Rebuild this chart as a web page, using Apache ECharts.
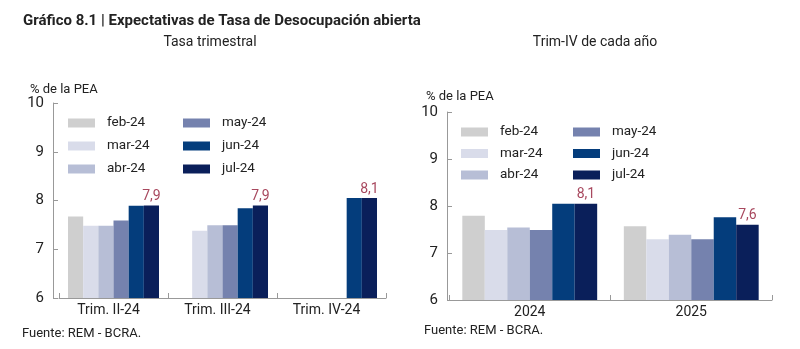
<!DOCTYPE html>
<html><head><meta charset="utf-8">
<script src="https://cdn.jsdelivr.net/npm/echarts@6/dist/echarts.min.js"></script>
<style>html,body{margin:0;padding:0;background:#fff}#c{width:800px;height:349px}</style>
</head><body><div id="c"></div>
<script>
// ---- data ----
const seriesNames = ['feb-24','mar-24','abr-24','may-24','jun-24','jul-24'];
const leftCategories = ['Trim. II-24','Trim. III-24','Trim. IV-24'];
const rightCategories = ['2024','2025'];
const leftFeb = [7.67, null, null];
const leftMar = [7.48, 7.38, null];
const leftAbr = [7.48, 7.49, null];
const leftMay = [7.59, 7.49, null];
const leftJun = [7.89, 7.84, 8.05];
const leftJul = [7.9, 7.9, 8.05];
const rightFeb = [7.79, 7.57];
const rightMar = [7.49, 7.29];
const rightAbr = [7.54, 7.39];
const rightMay = [7.49, 7.29];
const rightJun = [8.05, 7.76];
const rightJul = [8.05, 7.6];
const yTicks = [6, 7, 8, 9, 10];

const colors = ['#cfcfcf','#d9dcea','#b7bed6','#7582ae','#043d7c','#0a1f5a'];
const leftData = [leftFeb,leftMar,leftAbr,leftMay,leftJun,leftJul];
const rightData = [rightFeb,rightMar,rightAbr,rightMay,rightJun,rightJul];
const FONT = 'Roboto';
const txt = '#222';

function mkSeries(dataArr, idx) {
  return dataArr.map((d, i) => ({
    name: seriesNames[i], type: 'bar', xAxisIndex: idx, yAxisIndex: idx,
    data: d, barGap: '0%', barCategoryGap: '16.5%',
    itemStyle: { color: colors[i] },
    label: i === 5 ? {
      show: true, position: 'top', distance: 2, color: '#a8485e',
      fontFamily: FONT, fontSize: 14,
      formatter: p => (Math.round(p.value * 10) / 10).toFixed(1).replace('.', ',')
    } : { show: false },
    emphasis: { disabled: true }, animation: false
  }));
}

function mkLegends(x1, x2, top, gap) {
  const common = {
    orient: 'vertical', itemWidth: 27, itemHeight: 9, itemGap: gap, padding: 0,
    icon: 'rect', selectedMode: false,
    textStyle: { fontFamily: FONT, fontSize: 13.5, color: txt, padding: [0, 0, 0, 7] }
  };
  return [
    Object.assign({}, common, { left: x1, top: top, data: seriesNames.slice(0, 3) }),
    Object.assign({}, common, { left: x2, top: top, data: seriesNames.slice(3) })
  ];
}

function yAxis(gi, off) {
  return {
    type: 'value', gridIndex: gi, min: yTicks[0], max: yTicks[yTicks.length - 1], interval: 1,
    offset: off,
    axisLine: { show: true, lineStyle: { color: '#999' } },
    axisTick: { show: true, inside: true, length: 5, lineStyle: { color: '#999' } },
    splitLine: { show: false },
    axisLabel: { fontFamily: FONT, fontSize: 15, color: txt, margin: 9 }
  };
}
function xAxis(gi, cats, shift) {
  return {
    type: 'category', gridIndex: gi, data: cats,
    axisLine: { show: true, lineStyle: { color: '#999' } },
    axisTick: { show: true, inside: true, length: 5, lineStyle: { color: '#999' } },
    axisLabel: { fontFamily: FONT, fontSize: 14, color: txt, margin: 5, padding: [0, shift, 0, 0] }
  };
}

const chart = echarts.init(document.getElementById('c'), null, { renderer: 'canvas' });
chart.setOption({
  animation: false,
  textStyle: { fontFamily: FONT },
  title: [
    { text: 'Gráfico 8.1 | Expectativas de Tasa de Desocupación abierta', left: 18, top: 9,
      textStyle: { fontFamily: FONT, fontSize: 15, fontWeight: 'bold', color: '#222' } },
    { text: 'Tasa trimestral', left: 205, top: 30, textAlign: 'center',
      textStyle: { fontFamily: FONT, fontSize: 14, fontWeight: 'normal', color: txt } },
    { text: 'Trim-IV de cada año', left: 590, top: 30, textAlign: 'center',
      textStyle: { fontFamily: FONT, fontSize: 14, fontWeight: 'normal', color: txt } },
    { text: '% de la PEA', left: 25, top: 78,
      textStyle: { fontFamily: FONT, fontSize: 13, fontWeight: 'normal', color: txt } },
    { text: '% de la PEA', left: 421, top: 85,
      textStyle: { fontFamily: FONT, fontSize: 13, fontWeight: 'normal', color: txt } },
    { text: 'Fuente: REM - BCRA.', left: 17, top: 322,
      textStyle: { fontFamily: FONT, fontSize: 13, fontWeight: 'normal', color: txt } },
    { text: 'Fuente: REM - BCRA.', left: 419, top: 319,
      textStyle: { fontFamily: FONT, fontSize: 13, fontWeight: 'normal', color: txt } }
  ],
  legend: mkLegends(68, 183, 116, 9).concat(mkLegends(461, 573, 125, 7.5)),
  grid: [
    { left: 59, right: 414, top: 103, bottom: 51 },
    { left: 449, right: 28, top: 112, bottom: 49 }
  ],
  xAxis: [xAxis(0, leftCategories, 10), xAxis(1, rightCategories, 0)],
  yAxis: [yAxis(0, 6), yAxis(1, 2)],
  series: mkSeries(leftData, 0).concat(mkSeries(rightData, 1))
});
</script></body></html>
